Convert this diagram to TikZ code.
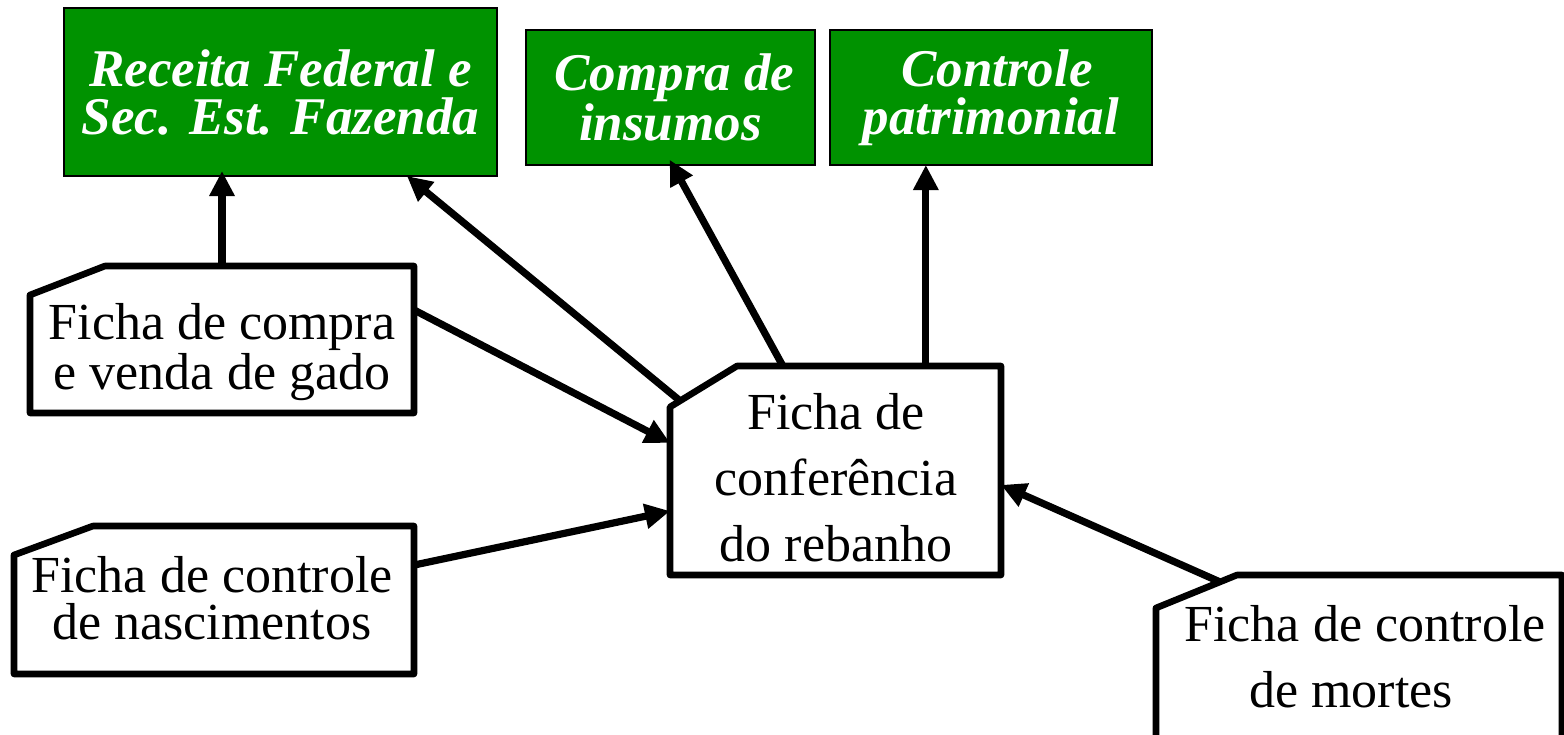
\documentclass[tikz,border=0pt]{standalone}
\usepackage{fontspec}
\setmainfont{Liberation Serif}
\usetikzlibrary{arrows.meta,calc}
\definecolor{boxgreen}{RGB}{0,146,0}
\tikzset{
  greenbox/.style={draw=black, line width=0.7pt, fill=boxgreen, text=white, inner sep=0pt, outer sep=0pt,
    align=center, font=\fontsize{26.5}{24}\selectfont\bfseries\itshape},
  cardarea/.style={draw=none, inner sep=0pt, outer sep=0pt},
  cardtext/.style={inner sep=0pt, align=center},
  tight/.style={font=\fontsize{26}{23.5}\selectfont},
  loose/.style={font=\fontsize{26}{33}\selectfont},
  frame/.style={draw=black, line width=3.3pt, line join=round, fill=white},
  arr/.style={draw=black, line width=3.6pt, -{Triangle[length=12.5pt,width=12pt]}}
}
\newcommand\cardframe[3]{%
  \coordinate (#1-ct) at ($(#1.north west)+(#2,0)$);
  \coordinate (#1-cl) at ($(#1.north west)+(0,#3)$);
  \draw[frame] (#1-ct) -- (#1.north east) -- (#1.south east) -- (#1.south west) -- (#1-cl) -- cycle;}
\begin{document}
\begin{tikzpicture}[x=0.5pt,y=-0.5pt]
\clip (0,0) rectangle (1564,734);
\fill[white] (0,0) rectangle (1564,734);
% green destination boxes
\node[greenbox, minimum width=216.5pt, minimum height=84pt] (g1) at (280.5,92) {Receita Federal e\\Sec. Est. Fazenda};
\node[greenbox, minimum width=144.5pt, minimum height=67.5pt] (g2) at (670.5,97.5) {\hspace*{4pt}Compra de\\insumos};
\node[greenbox, minimum width=161pt, minimum height=67.5pt] (g3) at (991,97.5) {\hspace*{6pt}Controle\\patrimonial};
% card areas
\node[cardarea, minimum width=192pt, minimum height=73.5pt] (c1) at (222,339.5) {};
\node[cardarea, minimum width=200pt, minimum height=74pt] (c2) at (214,600) {};
\node[cardarea, minimum width=165.5pt, minimum height=104.5pt] (c3) at (835.5,470.5) {};
\node[cardarea, minimum width=203pt, minimum height=87.5pt] (c4) at (1359,662.5) {};
\cardframe{c1}{75}{29}
\cardframe{c2}{79}{29}
\cardframe{c3}{67}{41}
\cardframe{c4}{81}{33}
% card texts
\node[cardtext, tight] (t1) at (222,352) {Ficha de compra\\e venda de gado};
\node[cardtext, tight] (t2) at (212,598) {Ficha de controle\\de nascimentos};
\node[cardtext, loose] (t3) at (836,478) {Ficha de\\conferência\\do rebanho};
\node[cardtext, loose] (t4) at (1365,657) {Ficha de controle\\de mortes\hspace*{14pt}};
% connectors
\draw[arr, shorten >=-2.5pt] (c1.north) -- (c1.north |- g1.south);
\draw[arr] ($(c3-cl)!0.15!(c3-ct)$) -- ($(g1.south west)!0.792!(g1.south east)$);
\draw[arr, shorten >=-3pt] ($(c3.north west)!0.341!(c3.north east)$) -- ($(g2.south)+(2,0)$);
\coordinate (s4) at ($(c3.north west)!0.773!(c3.north east)$);
\draw[arr] (s4) -- (s4 |- g3.south);
\draw[arr] ($(c1.north east)!0.299!(c1.south east)$) -- ($(c3.north west)!0.368!(c3.south west)$);
\draw[arr] ($(c2.north east)!0.264!(c2.south east)$) -- ($(c3.north west)!0.694!(c3.south west)$);
\draw[arr] ($(c4-cl)!0.79!(c4-ct)$) -- ($(c3.north east)!0.569!(c3.south east)$);
\end{tikzpicture}
\end{document}
